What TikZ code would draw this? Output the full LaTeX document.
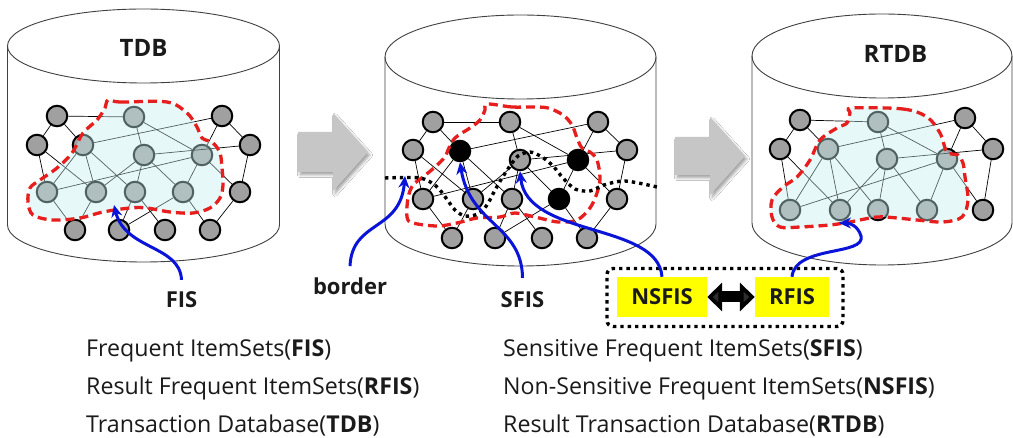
\documentclass[tikz,border=0pt]{standalone}
\usepackage{fontspec}
\setmainfont{Open Sans}
\usetikzlibrary{arrows.meta,shadows.blur}
\definecolor{nodegray}{HTML}{A0A0A0}
\definecolor{cylline}{HTML}{404040}
\definecolor{regionc}{RGB}{199,238,238}
\definecolor{dashred}{HTML}{E61E1E}
\definecolor{arrblue}{HTML}{0A14D8}
\definecolor{blockgray}{HTML}{C6C6C6}
\definecolor{boxyellow}{HTML}{FFFF00}
\definecolor{txt}{HTML}{1A1A1A}
\begin{document}
\begin{tikzpicture}[x=1pt,y=-1pt,
  gn/.style={circle, draw=black, line width=2pt, fill=nodegray, minimum size=20.5pt, inner sep=0pt},
  bn/.style={gn, fill=black},
  edge/.style={line width=0.7pt, draw=black},
  cylbody/.style={draw=cylline, line width=0.9pt},
  region/.style={fill=regionc, fill opacity=0.41},
  reddash/.style={draw=dashred, line width=3.3pt, dash pattern=on 9pt off 5pt},
  dotline/.style={draw=black, line width=3.4pt, dash pattern=on 3.4pt off 4pt},
  bluearrow/.style={draw=arrblue, line width=3pt, -{Stealth[length=12pt,width=11pt]}},
  blockarrow/.style={fill=blockgray, blur shadow={shadow xshift=2pt, shadow yshift=-3pt, shadow blur radius=2.5pt, shadow opacity=35}},
  biglabel/.style={font=\fontsize{24}{28}\selectfont\bfseries, text=txt, inner sep=0pt, anchor=base},
  lab/.style={font=\fontsize{22}{26}\selectfont\bfseries, text=txt, inner sep=0pt, anchor=base},
  ybox/.style={fill=boxyellow, font=\fontsize{22}{26}\selectfont\bfseries, text=txt, minimum height=40pt, inner sep=0pt},
  dotframe/.style={draw=black, line width=3.4pt, dash pattern=on 3.4pt off 4pt, rounded corners=6pt, minimum width=236pt, minimum height=58pt, inner sep=0pt},
  deftext/.style={font=\fontsize{23.2}{27}\selectfont, text=txt, inner sep=0pt, anchor=base west}
]
\useasboundingbox (0,0) rectangle (1013,438);
\fill[white] (0,0) rectangle (1013,438);

% ---------- cylinders ----------
\draw[cylbody] (7.5,46) -- (7.5,225) arc[start angle=180, end angle=360, x radius=136pt, y radius=37pt] -- (279.5,46);
\draw[cylbody] (143.5,46) ellipse[x radius=136pt, y radius=37pt];
\draw[cylbody] (385,57) -- (385,224) arc[start angle=180, end angle=360, x radius=135.5pt, y radius=42pt] -- (656,57);
\draw[cylbody] (520.5,57) ellipse[x radius=135.5pt, y radius=42pt];
\draw[cylbody] (752,56) -- (752,223) arc[start angle=180, end angle=360, x radius=130pt, y radius=42pt] -- (1012,56);
\draw[cylbody] (882,56) ellipse[x radius=130pt, y radius=42pt];

% ---------- block arrows ----------
\path[blockarrow] (298,132) -- (333,132) -- (333,113) -- (368,152) -- (333,191) -- (333,172) -- (298,172) -- cycle;
\path[blockarrow] (675,137) -- (710,137) -- (710,117) -- (745,156) -- (710,195) -- (710,175) -- (675,175) -- cycle;

% ---------- graph 1 (TDB) ----------
\foreach \n/\x/\y in {A/57/116, B/37/145, C/134/117, D/83/145, E/144/155, F/202/155, G/222/116, H/250/145, I/240/192, J/47/192, K/96/192, L/135/192, M/183/192, N/75/230, O/119/230, P/165/230, Q/210/230}
  \node[gn] (a\n) at (\x,\y) {};
\foreach \p/\q in {A/B, A/C, A/D, B/J, B/K, C/E, C/F, D/G, D/J, D/K, E/K, E/M, E/H, J/F, F/M, F/I, G/F, G/H, H/I, I/Q, M/Q, L/P, L/O, K/N, J/N, O/M, E/L, D/L}
  \draw[edge] (a\p) -- (a\q);
\path[region] plot[smooth cycle, tension=0.55] coordinates {(108,100) (120,102) (167,102) (187,113) (197,127) (202,138) (213,143) (220,153) (222,168) (223,185) (220,198) (210,208) (193,213) (170,212) (147,208) (130,208) (103,212) (80,218) (53,220) (33,215) (28,202) (30,188) (40,180) (57,168) (72,153) (83,133) (97,120) (105,108)};
\draw[reddash] plot[smooth cycle, tension=0.55] coordinates {(108,100) (120,102) (167,102) (187,113) (197,127) (202,138) (213,143) (220,153) (222,168) (223,185) (220,198) (210,208) (193,213) (170,212) (147,208) (130,208) (103,212) (80,218) (53,220) (33,215) (28,202) (30,188) (40,180) (57,168) (72,153) (83,133) (97,120) (105,108)};

% ---------- graph 2 ----------
\foreach \n/\x/\y in {A/433/122, B/413/150, C/510/122, E/520/160, G/598/122, H/627/150, I/617/199, J/423/199, K/473/199, L/512/199, N/452/238, O/495/238, P/542/238, Q/587/238}
  \node[gn] (b\n) at (\x,\y) {};
\foreach \n/\x/\y in {D/460/151, F/578/160, M/559/199}
  \node[bn] (b\n) at (\x,\y) {};
\foreach \p/\q in {A/B, A/C, A/D, B/J, B/K, C/E, C/F, D/G, D/J, D/K, E/K, E/M, E/H, J/F, F/M, F/I, G/F, G/H, H/I, I/Q, M/Q, L/P, L/O, K/N, J/N, O/M, E/L, D/L}
  \draw[edge] (b\p) -- (b\q);
\draw[reddash] plot[smooth cycle, tension=0.55] coordinates {(487,104) (512,107) (532,107) (548,108) (563,115) (572,125) (577,138) (582,148) (590,152) (597,160) (600,178) (597,193) (590,208) (577,220) (558,222) (535,217) (515,213) (500,217) (477,218) (457,223) (437,226) (413,223) (407,217) (408,198) (413,185) (423,177) (435,167) (445,157) (448,150) (455,138) (470,128) (480,120) (485,110)};
\draw[dotline] plot[smooth, tension=0.5] coordinates {(385,178) (420,178) (436,186) (446,198) (455,210) (465,216) (478,214) (487,205) (494,192) (502,178) (510,166) (518,156) (530,152) (542,157) (553,166) (563,178) (575,189) (590,191) (604,185) (625,181) (657,187)};

% ---------- graph 3 (RTDB) ----------
\foreach \n/\x/\y in {A/800/120, B/780/149, C/878/122, D/828/149, E/887/159, F/947/159, G/965/118, H/993/149, I/983/210, J/790/210, K/840/210, L/878/210, M/927/210}
  \node[gn] (c\n) at (\x,\y) {};
\foreach \p/\q in {A/B, A/C, A/D, B/J, B/K, C/E, C/F, D/G, D/J, D/K, E/K, E/M, E/H, J/F, F/M, F/I, G/F, G/H, H/I, E/L, D/L}
  \draw[edge] (c\p) -- (c\q);
\path[region] plot[smooth cycle, tension=0.55] coordinates {(852,108) (903,109) (927,117) (940,133) (947,152) (958,155) (963,163) (965,177) (968,200) (962,217) (943,222) (917,220) (897,218) (877,217) (850,222) (830,225) (800,227) (780,227) (772,217) (772,200) (783,187) (797,177) (810,160) (820,140) (837,128) (847,123) (850,113)};
\draw[reddash] plot[smooth cycle, tension=0.55] coordinates {(852,108) (903,109) (927,117) (940,133) (947,152) (958,155) (963,163) (965,177) (968,200) (962,217) (943,222) (917,220) (897,218) (877,217) (850,222) (830,225) (800,227) (780,227) (772,217) (772,200) (783,187) (797,177) (810,160) (820,140) (837,128) (847,123) (850,113)};

% ---------- titles ----------
\node[biglabel] (tdb) at (143.5,57) {TDB};
\node[biglabel] (rtdb) at (895.5,63) {RTDB};

% ---------- labels ----------
\node[lab] (fis) at (181.5,308) {FIS};
\node[lab] (border) at (350,295) {border};
\node[lab] (sfis) at (522.5,308) {SFIS};
\node[dotframe] (grp) at (725,297.5) {};
\node[ybox, minimum width=90pt] (nsfis) at (662,297) {NSFIS};
\node[ybox, minimum width=74pt] (rfis) at (792,297) {RFIS};
\draw[line width=11pt, {Triangle[length=15pt,width=28pt]}-{Triangle[length=15pt,width=28pt]}] (nsfis.east) -- (rfis.west);

% ---------- blue arrows ----------
\coordinate (fisTip) at (114,205);
\coordinate (borderTip) at (405,176);
\coordinate (rfisTip) at (839,223);
\draw[bluearrow] ([yshift=12pt]fis.north) .. controls (180,245) and (125,250) .. (fisTip);
\draw[bluearrow] ([yshift=12pt]border.north) .. controls (352,220) and (400,232) .. (borderTip);
\draw[bluearrow] ([yshift=14pt]sfis.north) .. controls (522,225) and (470,225) .. (bD.south);
\draw[bluearrow] (nsfis.north) .. controls (658,222) and (527,238) .. (bE.south);
\draw[bluearrow] (rfis.north) .. controls (795,245) and (866,256) .. (861,236) .. controls (858,226) and (850,223) .. (rfisTip);

% ---------- definitions ----------
\node[deftext] (d1) at (86,357) {Frequent ItemSets(\textbf{FIS})};
\node[deftext] (d2) at (86,395) {Result Frequent ItemSets(\textbf{RFIS})};
\node[deftext] (d3) at (86,432) {Transaction Database(\textbf{TDB})};
\node[deftext] (d4) at (503,357) {Sensitive Frequent ItemSets(\textbf{SFIS})};
\node[deftext] (d5) at (503,395) {Non-Sensitive Frequent ItemSets(\textbf{NSFIS})};
\node[deftext] (d6) at (503,432) {Result Transaction Database(\textbf{RTDB})};
\end{tikzpicture}
\end{document}
